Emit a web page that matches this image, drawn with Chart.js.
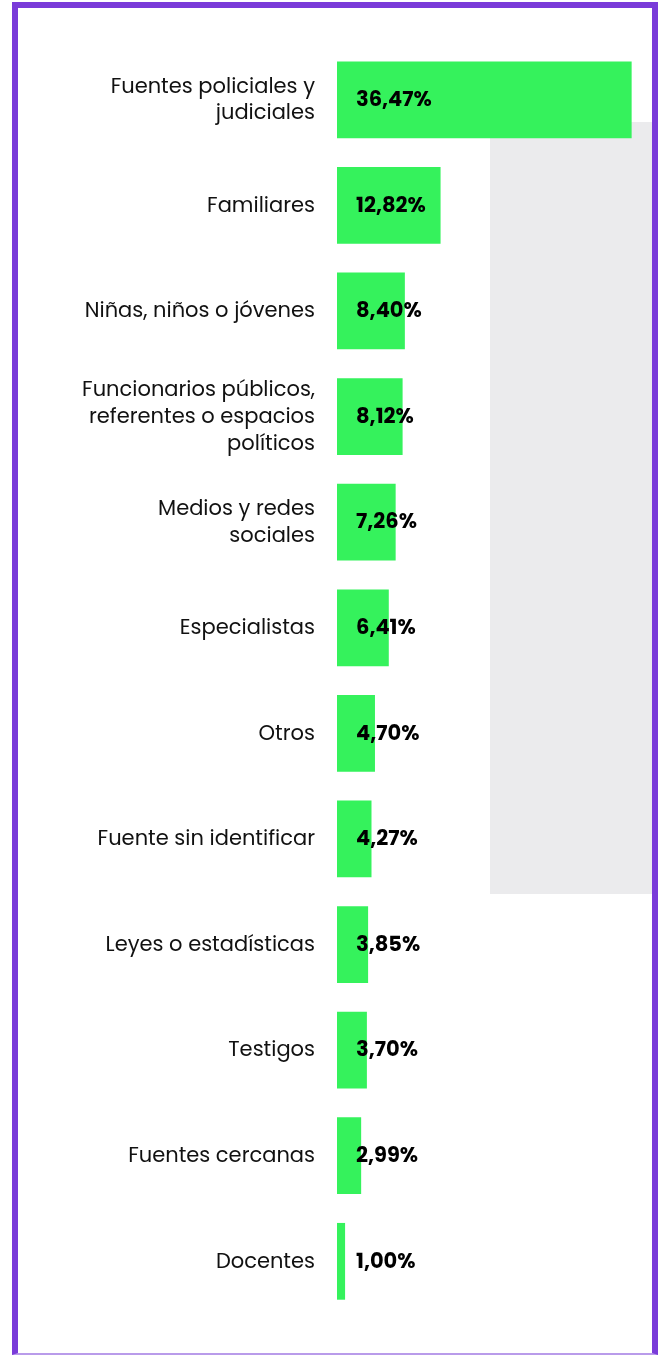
<!DOCTYPE html>
<html>
<head>
<meta charset="utf-8">
<script src="https://cdn.jsdelivr.net/npm/chart.js@4.4.1/dist/chart.umd.min.js"></script>
<style>
    html, body { margin: 0; padding: 0; background: #fff; }
    #wrap { position: relative; width: 659px; height: 1355px; overflow: hidden; }
    #frame {
        position: absolute; left: 12px; top: 2px; width: 634px; height: 1345px;
        border: 6px solid #7a3bd9; border-bottom: 2px solid #b99bea; box-sizing: content-box;
    }
    #shade { position: absolute; left: 490px; top: 122px; width: 162px; height: 772px; background: #ebebed; }
    #chart { position: absolute; left: 0; top: 0; }
</style>
</head>
<body>
<div id="wrap">
    <div id="frame"></div>
    <div id="shade"></div>
    <canvas id="chart" width="659" height="1355"></canvas>
</div>
<script>
// fuentes consultadas (%)
const categorias = [
    ['Fuentes policiales y', 'judiciales'],
    'Familiares',
    'Niñas, niños o jóvenes',
    ['Funcionarios públicos,', 'referentes o espacios', 'políticos'],
    ['Medios y redes', 'sociales'],
    'Especialistas',
    'Otros',
    'Fuente sin identificar',
    'Leyes o estadísticas',
    'Testigos',
    'Fuentes cercanas',
    'Docentes'
];
const porcentajes = [36.47, 12.82, 8.40, 8.12, 7.26, 6.41, 4.70, 4.27, 3.85, 3.70, 2.99, 1.00];
const etiquetas = ['36,47%', '12,82%', '8,40%', '8,12%', '7,26%', '6,41%', '4,70%', '4,27%', '3,85%', '3,70%', '2,99%', '1,00%'];

const FONT = 'Poppins, "Noto Sans", sans-serif';

// value labels over each bar
const valueLabels = {
    id: 'valueLabels',
    afterDatasetsDraw(chart) {
        const { ctx } = chart;
        const meta = chart.getDatasetMeta(0);
        ctx.save();
        ctx.font = 'bold 21px ' + FONT;
        ctx.fillStyle = '#000';
        ctx.textBaseline = 'middle';
        ctx.textAlign = 'left';
        meta.data.forEach((bar, i) => {
            ctx.fillText(etiquetas[i], bar.base + 19, bar.y + 1);
        });
        ctx.restore();
    }
};

new Chart(document.getElementById('chart'), {
    type: 'bar',
    data: {
        labels: categorias,
        datasets: [{
            data: porcentajes,
            backgroundColor: '#35f25c',
            borderWidth: 0,
            categoryPercentage: 1,
            barPercentage: 0.727
        }]
    },
    options: {
        indexAxis: 'y',
        responsive: false,
        animation: false,
        layout: { padding: { top: 47, bottom: 25, left: 0, right: 15 } },
        plugins: { legend: { display: false }, tooltip: { enabled: false } },
        scales: {
            x: {
                display: false,
                min: 0,
                max: 38
            },
            y: {
                grid: { display: false },
                border: { display: false },
                afterFit(scale) { scale.width = 337; },
                ticks: {
                    color: '#111',
                    padding: 14,
                    labelOffset: 1,
                    font: { family: FONT, size: 21, lineHeight: 1.28 },
                    autoSkip: false
                }
            }
        }
    },
    plugins: [valueLabels]
});
</script>
</body>
</html>
